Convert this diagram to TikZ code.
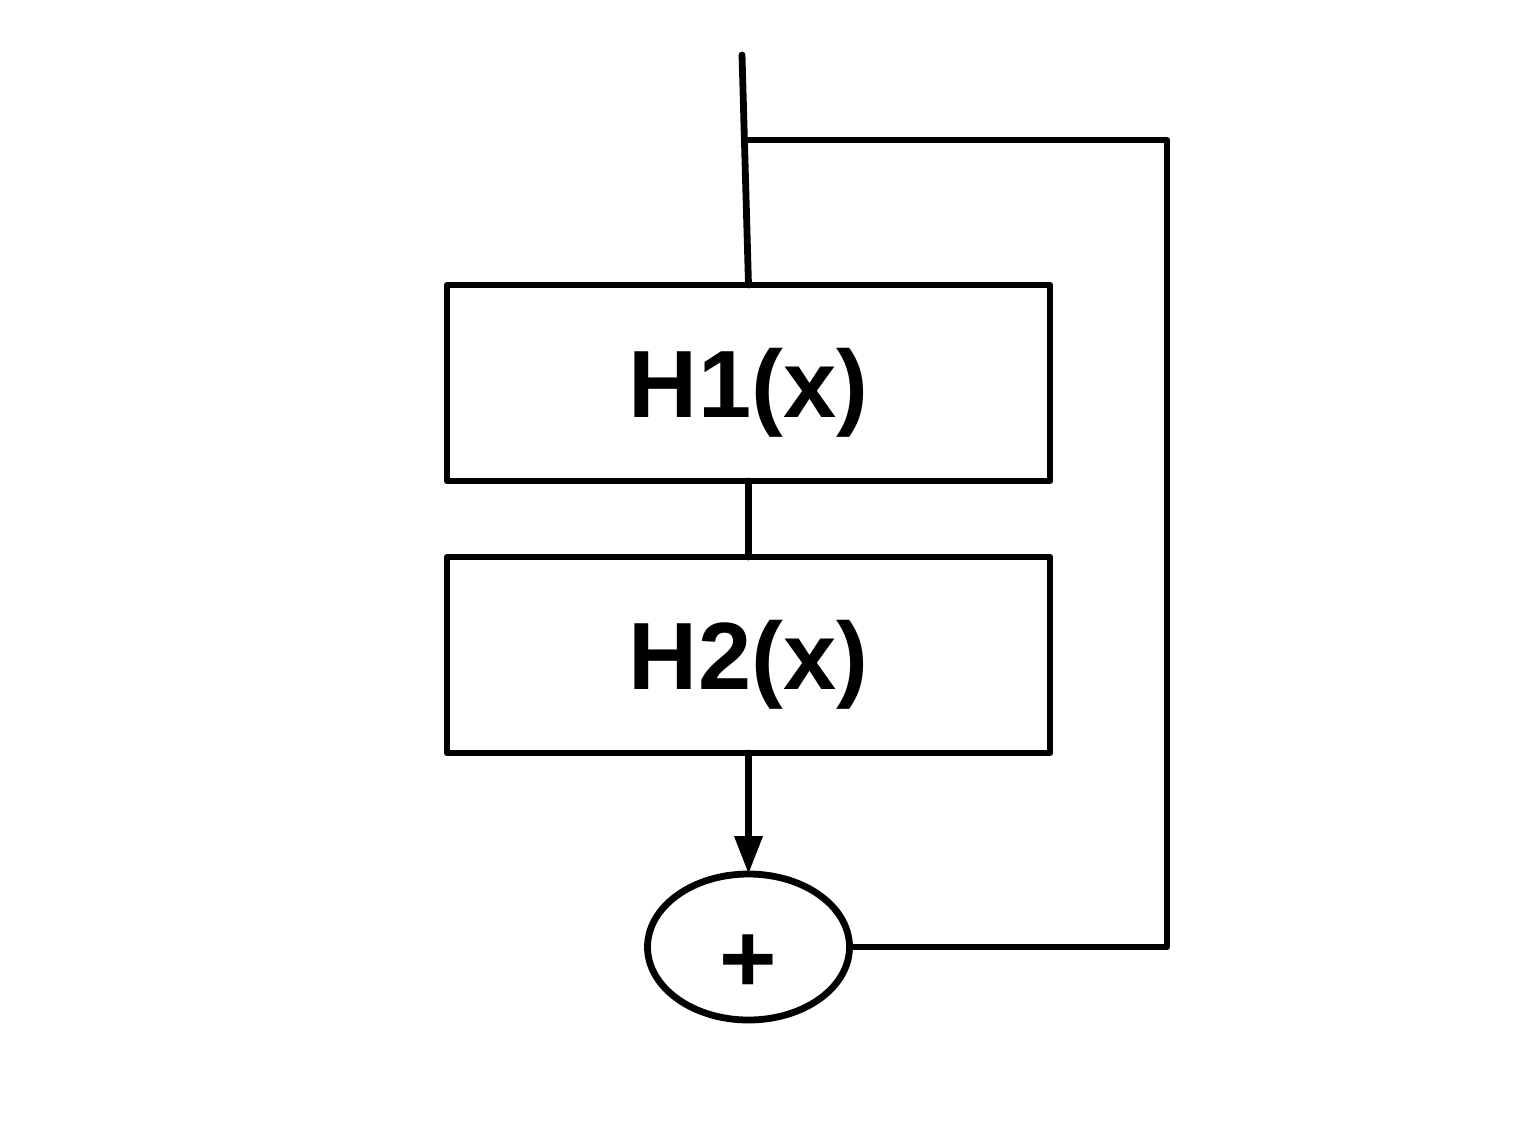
\documentclass[tikz,border=0pt]{standalone}
\usepackage{fontspec}
\setmainfont{Liberation Sans}
\usetikzlibrary{positioning,shapes.geometric,arrows.meta}
\begin{document}
\begin{tikzpicture}[line width=0.068cm, line cap=round, line join=round,
                    block/.style={draw, rectangle, minimum width=6.03cm, minimum height=1.96cm, inner sep=0pt, outer sep=0pt, text depth=0pt, font=\fontsize{27.2}{30}\selectfont\bfseries},
                    sumnode/.style={draw, ellipse, minimum width=2.02cm, minimum height=1.46cm, inner sep=0pt, outer sep=0pt, font=\fontsize{28}{30}\selectfont\bfseries}]
                \useasboundingbox (0,0) rectangle (15.22,11.42);
                \node[block] (H1) at (7.485,7.59) {H1(x)};
                \node[block, below=0.76cm of H1] (H2) {H2(x)};
                \node[sumnode, below=1.21cm of H2] (P) {\raisebox{-0.45cm}[0pt][0pt]{+}};

                \coordinate (In) at (7.42,10.87);
                \coordinate (S) at (7.46,10.02);
                \coordinate (K) at (11.67,10.02);

                \draw (In) -- (H1.north);
                \draw (H1) -- (H2);
                \draw[-{Triangle[length=0.38cm, width=0.27cm]}] (H2) -- (P);
                \draw (S) -- (K) |- (P.east);
            \end{tikzpicture}
\end{document}
